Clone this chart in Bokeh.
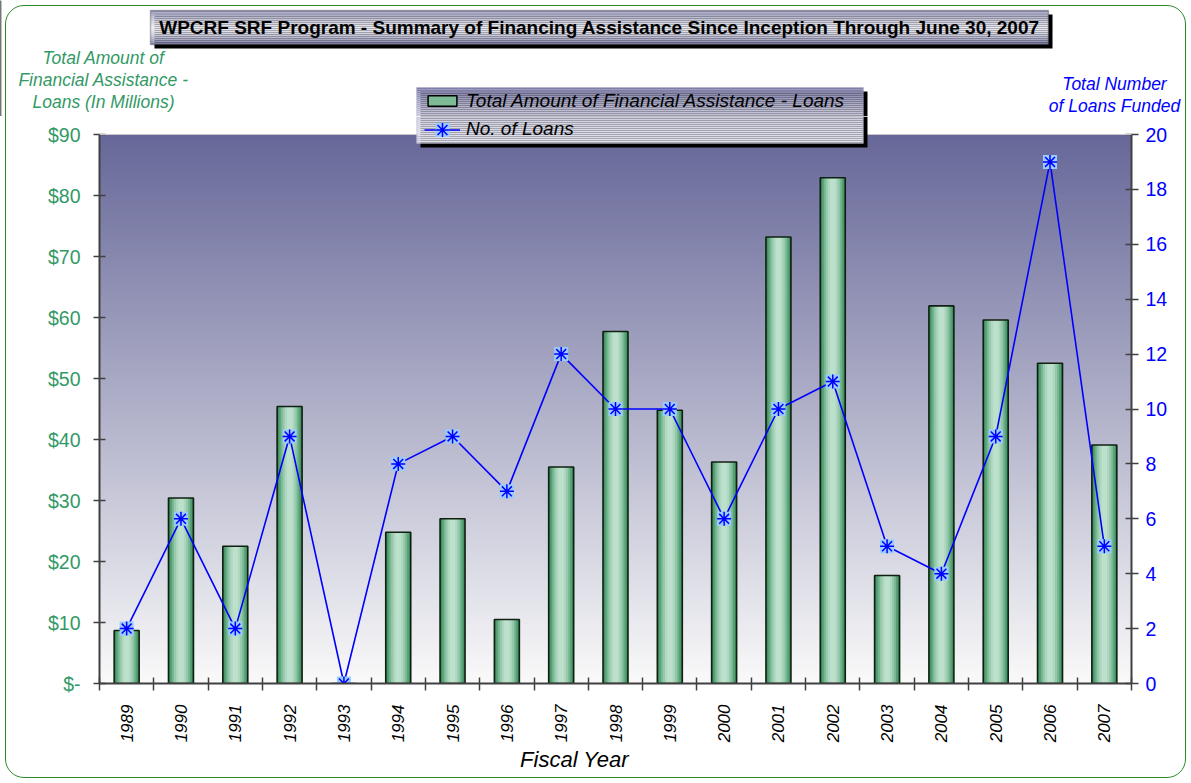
import numpy as np
from bokeh.plotting import figure
from bokeh.layouts import column
from bokeh.models import (Range1d, LinearAxis, FixedTicker, Label, Legend, LegendItem,
                          BoxAnnotation, Span)
from bokeh.embed import file_html
from bokeh.resources import INLINE

# ---------------- data ----------------
years = ["1989", "1990", "1991", "1992", "1993", "1994", "1995", "1996", "1997", "1998",
         "1999", "2000", "2001", "2002", "2003", "2004", "2005", "2006", "2007"]
amounts = [8.7, 30.4, 22.5, 45.4, 0.0, 24.8, 27.0, 10.5, 35.5, 57.7,
           44.8, 36.3, 73.2, 82.9, 17.7, 61.9, 59.6, 52.5, 39.1]
loans = [2, 6, 2, 9, 0, 8, 9, 7, 12, 10, 10, 6, 10, 11, 5, 4, 9, 19, 5]
left_ticks = [0, 10, 20, 30, 40, 50, 60, 70, 80, 90]
left_tick_labels = ["$-", "$10", "$20", "$30", "$40", "$50", "$60", "$70", "$80", "$90"]
right_ticks = [0, 2, 4, 6, 8, 10, 12, 14, 16, 18, 20]
AMT_MAX, LOAN_MAX = 90, 20

xs = list(range(len(years)))
FONT = "Liberation Sans"
GREEN_TXT = "#339966"
BLUE = "#0000ff"
W = 1191
TOP_H, MAIN_H, BOT_H = 116, 629, 38
# layout in page pixels
FRAME_L, FRAME_R, FRAME_T, FRAME_B = 99, 1131, 134, 683
MAIN_Y0 = TOP_H                      # page y where main figure starts
PX_PER_UNIT = (FRAME_B - FRAME_T) / AMT_MAX
EXTRA = (FRAME_T - MAIN_Y0) / PX_PER_UNIT   # range headroom above 90 (white band)


def no_align(f):
    if "frame_align" in type(f).properties():
        f.frame_align = False


def blank_fig(h):
    f = figure(width=W, height=h, output_backend="svg", toolbar_location=None, title=None,
               x_axis_location=None, y_axis_location=None, min_border=0,
               min_border_left=0, min_border_right=0, min_border_top=0, min_border_bottom=0,
               x_range=Range1d(0, 1), y_range=Range1d(0, 1))
    f.grid.visible = False
    f.outline_line_color = None
    f.background_fill_alpha = 0
    f.border_fill_alpha = 0
    no_align(f)
    return f


def mix(c1, c2, t):
    c = [int(round(a * (1 - t) + b * t)) for a, b in zip(c1, c2)]
    return "#%02x%02x%02x" % tuple(c)


def sbox(f, left, right, top, bottom, **kw):
    f.add_layout(BoxAnnotation(left=left, right=right, top=top, bottom=bottom,
                               left_units="screen", right_units="screen",
                               top_units="screen", bottom_units="screen", **kw))


# helpers mapping page coordinates to screen coords of a figure (y up from frame bottom)
def page_box(f, fig_x0, fig_bottom_y, l, r, t, b, **kw):
    sbox(f, l - fig_x0, r - fig_x0, fig_bottom_y - t, fig_bottom_y - b, **kw)


def legend_color(y):
    tt = (y - 87) / 56.0
    if tt < 0.6:
        return mix((108, 108, 156), (212, 212, 228), (tt / 0.6) ** 0.7)
    return mix((212, 212, 228), (226, 226, 236), (tt - 0.6) / 0.4)


def title_color(y):
    tt = (y - 10) / 34.0
    if tt < 0.5:
        return mix((118, 118, 160), (234, 234, 242), (tt / 0.5) ** 0.6)
    return mix((234, 234, 242), (120, 120, 162), ((tt - 0.5) / 0.5) ** 1.6)


def page_gradient(f, fig_x0, fig_bottom_y, l, r, t, b, cfun, step=2):
    y = t
    while y < b:
        y2 = min(b, y + step)
        page_box(f, fig_x0, fig_bottom_y, l, r, y, y2, fill_color=cfun(y + step / 2),
                 fill_alpha=1, line_color=None)
        y = y2


# ================= main chart =================
p = figure(width=W, height=MAIN_H, output_backend="svg", toolbar_location=None, title=None,
           x_range=Range1d(-0.5, len(years) - 0.5), y_range=Range1d(0, AMT_MAX + EXTRA),
           min_border_left=FRAME_L, min_border_right=W - FRAME_R, min_border_top=0,
           min_border_bottom=MAIN_Y0 + MAIN_H - FRAME_B)
no_align(p)
p.extra_y_ranges = {"loans": Range1d(0, LOAN_MAX * (AMT_MAX + EXTRA) / AMT_MAX)}
p.xgrid.visible = False
p.ygrid.visible = False
p.outline_line_color = None
p.background_fill_color = "white"
p.border_fill_alpha = 0

# background gradient of the plotting area
N = 256
c_top = np.array([103, 104, 153], dtype=float)
c_bot = np.array([250, 250, 250], dtype=float)
t = np.linspace(0, 1, N)[:, None]
cols = c_bot * (1 - t) + c_top * t
img = np.zeros((N, 1, 4), dtype=np.uint8)
img[:, 0, :3] = cols.astype(np.uint8)
img[:, 0, 3] = 255
p.image_rgba(image=[img.view(np.uint32).reshape(N, 1)], x=-0.5, y=0, dw=len(years), dh=AMT_MAX)
p.add_layout(Span(location=AMT_MAX, dimension="width", line_color="#c8c8c8", line_width=1))

# bars with horizontal gradient (layers)
layers = [(0.46, "#3a8a5c"), (0.40, "#55a074"), (0.33, "#77b692"),
          (0.26, "#96c9ab"), (0.18, "#aed7c0"), (0.10, "#bde0cc")]
for w, c in layers:
    p.vbar(x=xs, top=amounts, width=w, fill_color=c, line_color=None)
p.vbar(x=xs, top=amounts, width=0.46, fill_color=None, line_color="#102010", line_width=1.6)

# line with markers
ln = p.line(x=xs, y=loans, y_range_name="loans", line_color=BLUE, line_width=1.6)
sq = p.scatter(x=xs, y=loans, y_range_name="loans", marker="square", size=14,
               fill_color="#99ccff", line_color=None)
ast = p.scatter(x=xs, y=loans, y_range_name="loans", marker="asterisk", size=14,
                line_color=BLUE, line_width=1.5)

# axes
yl = p.yaxis[0]
yl.ticker = FixedTicker(ticks=left_ticks)
yl.bounds = (0, AMT_MAX)
yl.major_label_overrides = {k: v for k, v in zip(left_ticks, left_tick_labels)}
yl.major_label_text_color = GREEN_TXT
yl.major_label_text_font = FONT
yl.major_label_text_font_size = "19.5px"
yl.major_tick_in = 6
yl.major_tick_out = 6
yl.minor_tick_line_color = None
yl.axis_line_color = "#404040"
yl.axis_line_width = 2
yl.major_tick_line_color = "#404040"
yl.major_tick_line_width = 1.5
yl.major_label_standoff = 13

yr = LinearAxis(y_range_name="loans", ticker=FixedTicker(ticks=right_ticks), bounds=(0, LOAN_MAX))
yr.major_label_text_color = BLUE
yr.major_label_text_font = FONT
yr.major_label_text_font_size = "19.5px"
yr.major_tick_in = 6
yr.major_tick_out = 7
yr.minor_tick_line_color = None
yr.axis_line_color = "#404040"
yr.axis_line_width = 2
yr.major_tick_line_color = "#404040"
yr.major_tick_line_width = 1.5
yr.major_label_standoff = 7
p.add_layout(yr, "right")

xa = p.xaxis[0]
xa.ticker = FixedTicker(ticks=xs, minor_ticks=[i - 0.5 for i in range(len(years) + 1)])
xa.major_label_overrides = {i: y for i, y in enumerate(years)}
xa.major_label_orientation = np.pi / 2
xa.major_label_text_font = FONT
xa.major_label_text_font_style = "italic"
xa.major_label_text_font_size = "17px"
xa.major_label_text_color = "black"
xa.major_tick_in = 0
xa.major_tick_out = 0
xa.minor_tick_in = 6
xa.minor_tick_out = 7
xa.minor_tick_line_color = "#404040"
xa.minor_tick_line_width = 1.5
xa.axis_line_color = "#404040"
xa.axis_line_width = 2
xa.major_label_standoff = 14

# ================= top strip =================
top = blank_fig(TOP_H)
TB = TOP_H  # page y of top strip bottom (screen y = TB - page_y)

# title box (page y 10..44, x 150..1048) with shadow
page_box(top, 0, TB, 154, 1052, 14, 48, fill_color="black", fill_alpha=1, line_color=None)
page_gradient(top, 0, TB, 150, 1048, 10, 44, title_color)
page_box(top, 0, TB, 150, 1048, 10, 44, fill_color=None, line_color="#202020", line_width=1.5)
title_txt = "WPCRF SRF Program - Summary of Financing Assistance Since Inception Through June 30, 2007"
top.add_layout(Label(x=599, y=TB - 27, x_units="screen", y_units="screen", text=title_txt,
                     text_align="center", text_baseline="middle", text_font=FONT,
                     text_font_style="bold", text_font_size="19px", text_color="black"))

# axis titles
for txt, yy in [("Total Amount of", 57), ("Financial Assistance -", 79), ("Loans (In Millions)", 101)]:
    top.add_layout(Label(x=103, y=TB - yy, x_units="screen", y_units="screen", text=txt,
                         text_align="center", text_baseline="middle", text_font=FONT,
                         text_font_style="italic", text_font_size="17.5px", text_color=GREEN_TXT))
for txt, yy in [("Total Number", 83), ("of Loans Funded", 105)]:
    top.add_layout(Label(x=1114, y=TB - yy, x_units="screen", y_units="screen", text=txt,
                         text_align="center", text_baseline="middle", text_font=FONT,
                         text_font_style="italic", text_font_size="17.5px", text_color=BLUE))

# legend box, page x 416..863, y 87..143 : split across top strip and main frame
LG_L, LG_R, LG_T, LG_B = 416, 863, 87, 143
# top-strip part
page_box(top, 0, TB, LG_L + 4, LG_R + 4, LG_T + 4, TOP_H, fill_color="black", fill_alpha=1, line_color=None)
page_gradient(top, 0, TB, LG_L, LG_R, LG_T, TOP_H, legend_color)
page_box(top, 0, TB, LG_L, LG_R, LG_T, LG_T + 1, fill_color="#a4a4c4", line_color=None)
page_box(top, 0, TB, LG_L, LG_L + 1, LG_T, TOP_H, fill_color="#a4a4c4", line_color=None)
page_box(top, 0, TB, LG_R - 1, LG_R, LG_T, TOP_H, fill_color="#a4a4c4", line_color=None)
# main-frame part (frame screen coords: x from FRAME_L, y up from FRAME_B)
page_box(p, FRAME_L, FRAME_B, LG_L + 4, LG_R + 4, MAIN_Y0, LG_B + 4, fill_color="black", fill_alpha=1, line_color=None)
page_gradient(p, FRAME_L, FRAME_B, LG_L, LG_R, MAIN_Y0, LG_B, legend_color)
page_box(p, FRAME_L, FRAME_B, LG_L, LG_R, LG_B - 1, LG_B, fill_color="#a4a4c4", line_color=None)
page_box(p, FRAME_L, FRAME_B, LG_L, LG_L + 1, MAIN_Y0, LG_B, fill_color="#a4a4c4", line_color=None)
page_box(p, FRAME_L, FRAME_B, LG_R - 1, LG_R, MAIN_Y0, LG_B, fill_color="#a4a4c4", line_color=None)

LEG_KW = dict(orientation="vertical", label_text_font=FONT, label_text_font_style="italic",
              label_text_font_size="19px", label_text_color="black", glyph_width=36,
              label_standoff=6, spacing=0, padding=0, margin=0,
              label_height=21, background_fill_alpha=0, border_line_color=None)
# legend row 1 (centre page y 101) in the top strip; key renderer lies outside the view
kb = top.vbar(x=[-5], top=[1], width=0.5, fill_color="#7dbb97", line_color="black", line_width=1.5)
leg1 = Legend(items=[LegendItem(label="Total Amount of Financial Assistance - Loans", renderers=[kb])],
              location=(LG_L + 8, TB - 101 - 10.5), glyph_height=13, **LEG_KW)
top.add_layout(leg1, "center")
# legend row 2 (centre page y 129) in the main frame; tall glyph box so markers keep size
leg2 = Legend(items=[LegendItem(label="No. of Loans", renderers=[ln, sq, ast])],
              location=(LG_L + 8 - FRAME_L, FRAME_B - 129 - 17.5), glyph_height=35, **LEG_KW)
p.add_layout(leg2, "center")

# ================= bottom strip: x axis title =================
bot = blank_fig(BOT_H)
BOT_Y0 = MAIN_Y0 + MAIN_H
bot.add_layout(Label(x=574, y=BOT_Y0 + BOT_H - 759, x_units="screen", y_units="screen",
                     text="Fiscal Year", text_align="center", text_baseline="middle",
                     text_font=FONT, text_font_style="italic", text_font_size="22px",
                     text_color="black"))

layout = column(top, p, bot, spacing=0)
layout.styles = {"outline": "1.5px solid #2a8a2a", "outline-offset": "-6px",
                 "border-radius": "24px"}

open("out.html", "w").write(file_html(layout, INLINE))
